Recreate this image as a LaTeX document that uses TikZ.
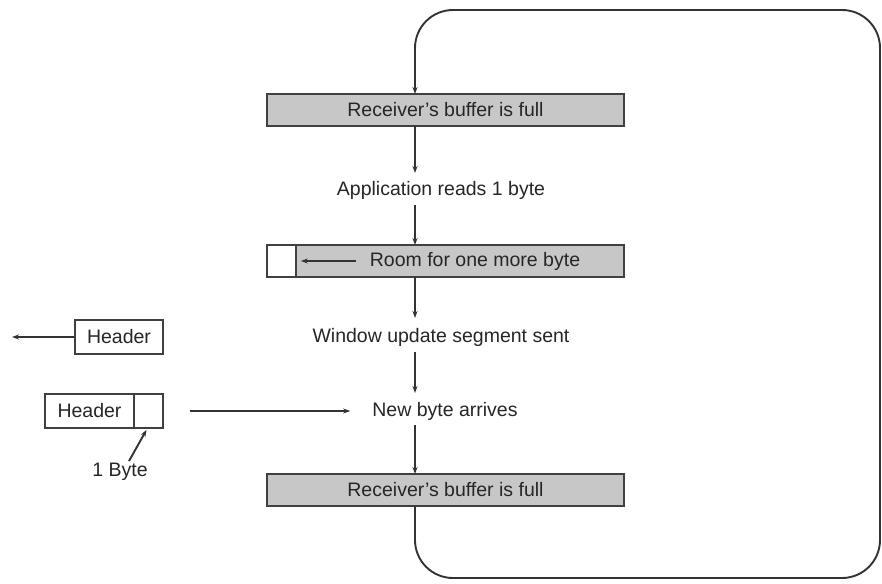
\documentclass[tikz,border=0pt]{standalone}
\usepackage{fontspec}
\setmainfont{Liberation Sans}
\usetikzlibrary{arrows.meta,calc}
\begin{document}
\begin{tikzpicture}[x=1pt,y=-1pt,
  every node/.style={font=\fontsize{19.5}{22}\selectfont, text=black!85},
  ln/.style={line width=1.9pt, draw=black!80},
  arr/.style={ln, -{Stealth[length=7pt,width=5pt]}},
  graybox/.style={draw=black!75, line width=1.7pt, fill=black!22, minimum height=32pt, inner sep=0pt},
  whitebox/.style={draw=black!75, line width=1.7pt, fill=white, minimum height=34pt, inner sep=0pt},
  lbl/.style={inner sep=0pt, minimum height=26pt}
]
\useasboundingbox (0,0) rectangle (882,583);
% main column
\node[graybox, minimum width=357pt] (full1) at (445.5,110) {Receiver's buffer is full};
\node[lbl] (app) at (441,190) {Application reads 1 byte};
\node[graybox, minimum width=29pt, fill=white] (free) at (281.5,261) {};
\node[graybox, minimum width=328pt] (room) at (460,261) {\hspace*{30pt}Room for one more byte};
\node[lbl] (win) at (441,337) {Window update segment sent};
\node[lbl] (newb) at (445,411) {New byte arrives};
\node[graybox, minimum width=357pt] (full3) at (445.5,490) {Receiver's buffer is full};
% vertical connectors
\draw[arr] (415,126) -- (415,173);
\draw[arr] (415,205) -- (415,245);
\draw[arr] (415,277) -- (415,318);
\draw[arr] (415,352) -- (415,393);
\draw[arr] (415,425) -- (415,474);
% loop
\draw[arr, rounded corners=38pt] (415,506) -- (415,578) -- (880,578) -- (880,10) -- (415,10) -- (415,94);
% room arrow
\coordinate (roomarrs) at (356,261);
\draw[arr] (roomarrs) -- ($(free.east)+(4,0)$);
% left side
\node[whitebox, minimum width=88pt] (hdr) at (119,337) {Header};
\coordinate (hdrend) at (12,337);
\draw[arr] (hdr.west) -- (hdrend);
\node[whitebox, minimum width=89pt] (hdr2) at (89.5,411) {Header};
\node[whitebox, minimum width=29pt] (byte) at (148.5,411) {};
\coordinate (segstart) at (190,411);
\draw[arr] (segstart) -- ($(newb.west)+(-22,0)$);
\node[inner sep=0pt] (onebyte) at (120,472) {1 Byte};
\draw[arr] ($(onebyte.north)+(9,-2)$) -- ($(byte.south)+(-2,1)$);
\end{tikzpicture}
\end{document}
